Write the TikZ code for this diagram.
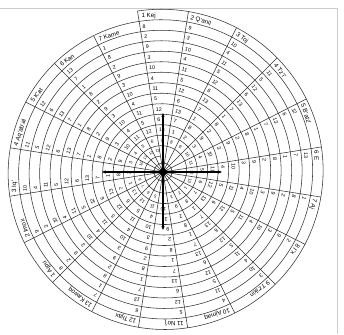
\documentclass[tikz,border=0pt]{standalone}
\usepackage{fontspec}
\setmainfont{Liberation Sans}
\usetikzlibrary{arrows.meta}

\begin{document}
\begin{tikzpicture}[x=1pt,y=1pt,
  grid/.style={line width=0.55pt, black!80},
  num/.style={font=\fontsize{5.3}{6}\selectfont, inner sep=0pt, anchor=west},
  lab/.style={font=\fontsize{6.2}{7}\selectfont, inner sep=0pt, anchor=west},
  axis/.style={line width=1.1pt, -{Stealth[length=4pt,width=3.2pt]}}]
  \useasboundingbox (-163,-162) rectangle (181,172);
  \def\Rout{163}
  \def\wid{10.5}

  % Coordinates
  \coordinate (O) at (0,0);
  \coordinate (aN) at (90:59);
  \coordinate (aS) at (-90:58);
  \coordinate (aE) at (0:59);
  \coordinate (aW) at (180:61);
  \foreach \s in {0,...,19}
    \coordinate (e\s) at ({99-18*\s}:{\Rout-\wid*\s/20});

  % Page edge
  \draw[black!20] (-163,164) -- (174,164) -- (174,-162);

  % Drawing
  \draw[grid] plot[domain=0:14, samples=1400, smooth] ({99-360*\x}:{\Rout-\wid*\x});
  \foreach \s in {0,...,19}
    \draw[grid] (O) -- (e\s);
  \draw[grid] (O) circle (9);

  % Day names, outer turn
  \foreach \nm [count=\s from 0] in {1 Kej, 2 Q'anil, 3 Toj, 4 Tz'i', 5 B'atz', 6 E, 7 Aj, 8 I'x, 9 Tz'ikin, 10 Ajmaq, 11 No'j, 12 Tijax, 13 Kawoq, 1 Ajpu, 2 Imox, 3 Iq', 4 Aq'ab'al, 5 K'at, 6 Kan, 7 Kame}{
    \pgfmathsetmacro\r{\Rout-\wid*(0.5+(\s+0.3)/20)}
    \pgfmathsetmacro\a{99-18*\s-3/\r*57.3}
    \node[lab, rotate={-18*\s}] (n\s) at (\a:\r) {\nm};
  }

  % Day numbers
  \foreach \s in {0,...,19}
    \foreach \k in {1,...,12}{
      \pgfmathtruncatemacro\n{mod(\s+20*\k,13)+1}
      \pgfmathsetmacro\r{\Rout-\wid*(\k+0.5+(\s+0.3)/20)}
      \pgfmathsetmacro\a{99-18*\s-2.5/\r*57.3}
      \pgfmathsetmacro\sc{min(1,0.45+\r/80)}
      \node[num, scale=\sc, rotate={-18*\s}] (d\s-\k) at (\a:\r) {\n};
    }

  % Centre star and arrows
  \fill[black] (0,10) -- (2,2) -- (10,0) -- (2,-2) -- (0,-10) -- (-2,-2) -- (-10,0) -- (-2,2) -- cycle;
  \fill[black] (O) circle (3.5);
  \draw[axis] (O) -- (aN);
  \draw[axis] (O) -- (aS);
  \draw[axis] (O) -- (aE);
  \draw[axis] (O) -- (aW);
\end{tikzpicture}
\end{document}
